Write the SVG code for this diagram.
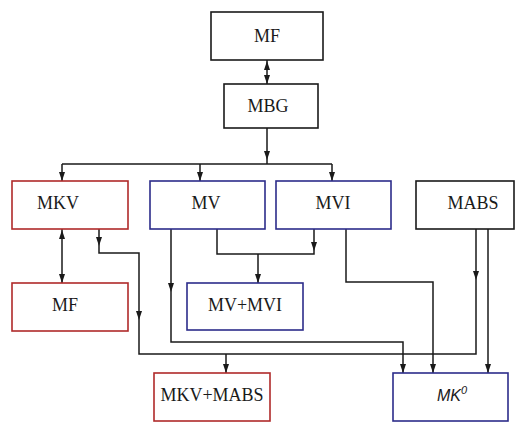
<svg xmlns="http://www.w3.org/2000/svg" xmlns:xlink="http://www.w3.org/1999/xlink" width="525" height="423" viewBox="0 0 525 423">
<style>
.box{fill:#fff;stroke-width:1.6}
.k{stroke:#1a1a1a}.r{stroke:#b02a2a}.b{stroke:#2c2c8a}
.t{font-family:"Liberation Serif","Times New Roman",serif;font-size:18px;fill:#1a1a1a;text-anchor:middle}
.ti{font-family:"Liberation Sans",Arial,sans-serif;font-style:italic;font-size:16px;fill:#1a1a1a;text-anchor:middle}
.c{fill:none;stroke:#1a1a1a;stroke-width:1.5}
.ah{fill:#1a1a1a}
</style>
<defs>
<path id="ad" d="M0 0 L-3 -9 L3 -9 Z" class="ah"/>
<path id="au" d="M0 0 L-3 9 L3 9 Z" class="ah"/>
</defs>
<rect width="525" height="423" fill="#fff"/>
<g id="connectors">
<path class="c" d="M267 60 V84"/>
<use xlink:href="#au" x="267" y="61"/>
<use xlink:href="#ad" x="267" y="84"/>
<path class="c" d="M267 128 V164 M62 164 H332 M62 164 V181 M200 164 V181 M332 164 V181"/>
<use xlink:href="#ad" x="267" y="160"/>
<use xlink:href="#ad" x="62" y="181"/>
<use xlink:href="#ad" x="200" y="181"/>
<use xlink:href="#ad" x="332" y="181"/>
<path class="c" d="M62 229 V283"/>
<use xlink:href="#au" x="62" y="230"/>
<use xlink:href="#ad" x="62" y="283"/>
<path class="c" d="M99 229 V253 H139 V354 H476 V229"/>
<use xlink:href="#ad" x="99" y="246"/>
<use xlink:href="#ad" x="139" y="320"/>
<use xlink:href="#ad" x="476" y="280"/>
<path class="c" d="M226 354 V373"/>
<use xlink:href="#ad" x="226" y="373"/>
<path class="c" d="M217 229 V254 H314 V229 M258 254 V283"/>
<use xlink:href="#ad" x="314" y="251"/>
<use xlink:href="#ad" x="258" y="283"/>
<path class="c" d="M171 229 V342 H403 V373"/>
<use xlink:href="#ad" x="171" y="292"/>
<use xlink:href="#ad" x="403" y="373"/>
<path class="c" d="M346 229 V282 H433 V373"/>
<use xlink:href="#ad" x="433" y="373"/>
<path class="c" d="M488 229 V373"/>
<use xlink:href="#ad" x="488" y="373"/>
</g>
<g id="n_mf_top"><rect class="box k" x="211" y="12" width="112" height="48"/><text class="t" x="267" y="42">MF</text></g>
<g id="n_mbg"><rect class="box k" x="224" y="84" width="94" height="44"/><text class="t" x="268" y="112">MBG</text></g>
<g id="n_mkv"><rect class="box r" x="12" y="181" width="116" height="48"/><text class="t" x="58" y="209">MKV</text></g>
<g id="n_mv"><rect class="box b" x="150" y="181" width="115" height="48"/><text class="t" x="206" y="209">MV</text></g>
<g id="n_mvi"><rect class="box b" x="276" y="181" width="115" height="48"/><text class="t" x="333" y="209">MVI</text></g>
<g id="n_mabs"><rect class="box k" x="416" y="181" width="98" height="48"/><text class="t" x="473" y="209">MABS</text></g>
<g id="n_mf"><rect class="box r" x="12" y="283" width="116" height="48"/><text class="t" x="65" y="311">MF</text></g>
<g id="n_mvmvi"><rect class="box b" x="187" y="283" width="116" height="47"/><text class="t" x="245" y="311">MV+MVI</text></g>
<g id="n_mkvmabs"><rect class="box r" x="154" y="373" width="116" height="48"/><text class="t" x="212" y="401">MKV+MABS</text></g>
<g id="n_mk0"><rect class="box b" x="393" y="373" width="115" height="48"/><text class="ti" x="452" y="401">MK<tspan font-size="11" dy="-7">0</tspan></text></g>
</svg>
